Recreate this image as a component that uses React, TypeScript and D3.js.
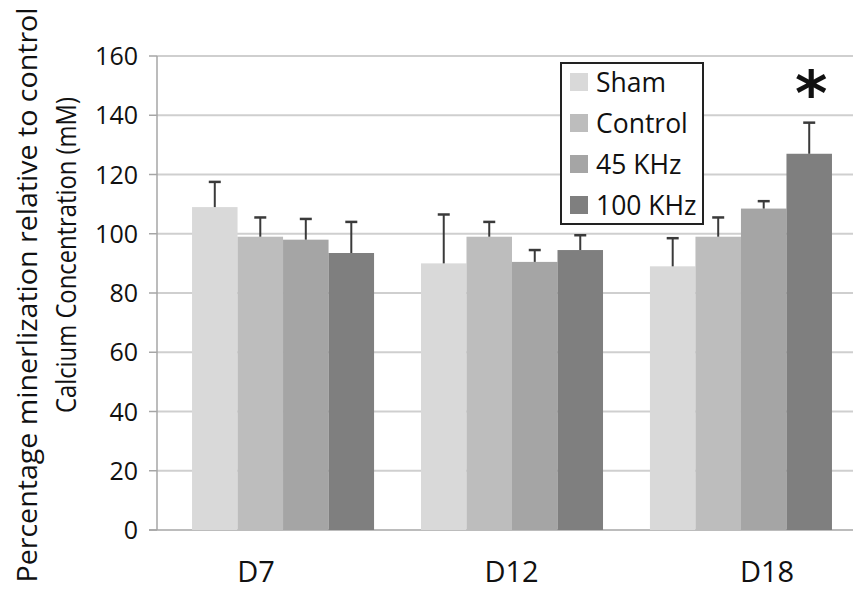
import React from 'react';
import { scaleBand, scaleLinear, scalePoint } from 'd3';

const categories = ['D7', 'D12', 'D18'];
const seriesNames = ['Sham', 'Control', '45 KHz', '100 KHz'];
const seriesColors = ['#d9d9d9', '#bdbdbd', '#a5a5a5', '#7f7f7f'];
const sham = [109, 90, 89];
const control = [99, 99, 99];
const khz45 = [98, 90.5, 108.5];
const khz100 = [93.5, 94.5, 127];
const shamErr = [8.5, 16.5, 9.5];
const controlErr = [6.5, 5, 6.5];
const khz45Err = [7, 4, 2.5];
const khz100Err = [10.5, 5, 10.5];
const yTicks = [0, 20, 40, 60, 80, 100, 120, 140, 160];
// significance mark for the 100 KHz series
const khz100Sig = ['', '', '*'];

const seriesValues = [sham, control, khz45, khz100];
const seriesErrors = [shamErr, controlErr, khz45Err, khz100Err];

const W = 853;
const H = 589;
const font = '"Open Sans", "DejaVu Sans", sans-serif';

const App = () => {
  const y = scaleLinear().domain([0, 160]).range([530, 56]);
  const x0 = scaleBand<string>().domain(categories).range([157, 867]).paddingInner(0.205).paddingOuter(0.153);
  const x1 = scaleBand<string>().domain(seriesNames).range([0, x0.bandwidth()]);
  const xLabel = scalePoint<string>().domain(categories).range([256, 767]);
  const axisX = 157;

  return (
    <svg width={W} height={H} style={{ position: 'absolute', left: 0, top: 0, background: '#fff' }}>
      {/* gridlines */}
      {yTicks.filter(t => t > 0).map(t => (
        <line key={'g' + t} x1={axisX} x2={W} y1={y(t)} y2={y(t)} stroke="#cfcfcf" strokeWidth={2} />
      ))}
      {/* axes */}
      <line x1={axisX} x2={axisX} y1={y(160)} y2={y(0)} stroke="#a6a6a6" strokeWidth={1.5} />
      <line x1={axisX - 8} x2={W} y1={y(0)} y2={y(0)} stroke="#a6a6a6" strokeWidth={1.5} />
      {yTicks.map(t => (
        <g key={'t' + t}>
          <line x1={axisX - 8} x2={axisX} y1={y(t)} y2={y(t)} stroke="#a6a6a6" strokeWidth={1.5} />
          <text x={138} y={y(t)} dy="0.36em" textAnchor="end" fontFamily={font} fontSize={25} fill="#111">{t}</text>
        </g>
      ))}
      {/* bars */}
      {categories.map((c, ci) => (
        <g key={c} transform={`translate(${x0(c)},0)`}>
          {seriesNames.map((s, si) => {
            const v = seriesValues[si][ci];
            const e = seriesErrors[si][ci];
            const bx = x1(s) as number;
            const cx = bx + x1.bandwidth() / 2;
            return (
              <g key={s}>
                <rect x={bx} y={y(v)} width={x1.bandwidth()} height={y(0) - y(v)} fill={seriesColors[si]} />
                <line x1={cx} x2={cx} y1={y(v)} y2={y(v + e)} stroke="#3a3a3a" strokeWidth={2} />
                <line x1={cx - 6} x2={cx + 6} y1={y(v + e)} y2={y(v + e)} stroke="#3a3a3a" strokeWidth={2.5} />
                {si === 3 && khz100Sig[ci] && (
                  <text x={cx + 2} y={y(v + e) - 8} textAnchor="middle" fontFamily='"DejaVu Sans", sans-serif'
                    fontWeight="bold" fontSize={62} fill="#111">{khz100Sig[ci]}</text>
                )}
              </g>
            );
          })}
        </g>
      ))}
      {/* category labels */}
      {categories.map(c => (
        <text key={'l' + c} x={xLabel(c)} y={582} textAnchor="middle" fontFamily={font} fontSize={29} fill="#111">{c}</text>
      ))}
      {/* y axis title */}
      <text transform="translate(37,295) rotate(-90)" textAnchor="middle" fontFamily={font} fontSize={27}
        fill="#111" textLength={575} lengthAdjust="spacingAndGlyphs">
        Percentage minerlization relative to control
      </text>
      <text transform="translate(76,255) rotate(-90)" textAnchor="middle" fontFamily={font} fontSize={27}
        fill="#111" textLength={316} lengthAdjust="spacingAndGlyphs">
        Calcium Concentration (mM)
      </text>
      {/* legend */}
      <g transform="translate(561,63)">
        <rect x={0} y={0} width={142} height={161} fill="#fff" stroke="#222" strokeWidth={2} />
        {seriesNames.map((s, i) => (
          <g key={'lg' + s} transform={`translate(0,${19 + i * 41})`}>
            <rect x={9} y={-9} width={18} height={18} fill={seriesColors[i]} />
            <text x={35} y={0} dy="0.36em" fontFamily={font} fontSize={26.5} fill="#111">{s}</text>
          </g>
        ))}
      </g>
    </svg>
  );
};

export default App;
